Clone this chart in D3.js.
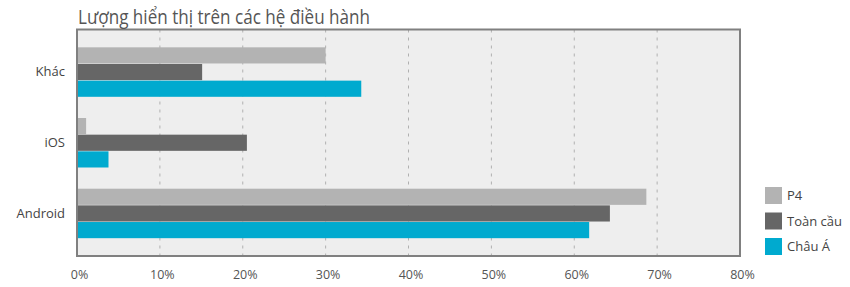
<!DOCTYPE html>
<html><head><meta charset="utf-8">
<script src="https://cdn.jsdelivr.net/npm/d3@7"></script>
<style>body{margin:0;background:#fff}svg{display:block}text{font-family:"Open Sans",sans-serif}</style>
</head><body>
<svg id="c" width="850" height="287"></svg>
<script>
const categories = ["Khác", "iOS", "Android"];
const seriesNames = ["P4", "Toàn cầu", "Châu Á"];
const p4 = [30.0, 1.1, 68.7];
const global = [15.1, 20.5, 64.3];
const asia = [34.3, 3.8, 61.8];
const ticks = [0, 10, 20, 30, 40, 50, 60, 70, 80];
const title = "Lượng hiển thị trên các hệ điều hành";
const colors = ["#b3b3b3", "#666666", "#00aacf"];
const seriesValues = [p4, global, asia];

const svg = d3.select("#c");
const L = 77, R = 740, T = 29.5, B = 256;
const x = d3.scaleLinear().domain([0, 80]).range([L, R]);
const y = d3.scaleBand().domain(categories).range([T, B]).paddingInner(0.3).paddingOuter(0.252);
const y2 = d3.scaleBand().domain(seriesNames).range([0, y.bandwidth()]).paddingInner(0.03);

svg.append("rect").attr("x", L).attr("y", T).attr("width", R - L).attr("height", B - T).attr("fill", "#eeeeee");

svg.append("g").selectAll("line").data(ticks.filter(t => t > 0 && t < 80)).join("line")
  .attr("x1", d => x(d)).attr("x2", d => x(d)).attr("y1", T).attr("y2", B)
  .attr("stroke", "#b0b0b0").attr("stroke-width", 1).attr("stroke-dasharray", "3,5");

categories.forEach((c, i) => {
  svg.append("g").selectAll("rect").data(seriesNames).join("rect")
    .attr("x", x(0)).attr("y", s => y(c) + y2(s))
    .attr("width", (s, j) => x(seriesValues[j][i]) - x(0))
    .attr("height", y2.bandwidth())
    .attr("fill", (s, j) => colors[j]);
});

svg.append("rect").attr("x", L).attr("y", T).attr("width", R - L).attr("height", B - T)
  .attr("fill", "none").attr("stroke", "#808080").attr("stroke-width", 2);

const xa = svg.append("g").attr("transform", `translate(2,${B})`)
  .call(d3.axisBottom(x).tickValues(ticks).tickFormat(d => d + "%").tickSize(0).tickPadding(14));
xa.select(".domain").remove();
xa.selectAll("text").attr("font-size", 12.5).attr("fill", "#555").style("font-family", "'Open Sans',sans-serif");

const ya = svg.append("g").attr("transform", `translate(${L},0)`)
  .call(d3.axisLeft(y).tickSize(0).tickPadding(12));
ya.select(".domain").remove();
ya.selectAll("text").attr("font-size", 13).attr("fill", "#444").style("font-family", "'Open Sans',sans-serif");

svg.append("text").attr("x", 78).attr("y", 24).attr("font-size", 20).attr("fill", "#555")
  .attr("textLength", 292).attr("lengthAdjust", "spacingAndGlyphs")
  .style("font-family", "'Open Sans', sans-serif").text(title);

const lg = svg.append("g").selectAll("g").data(seriesNames).join("g")
  .attr("transform", (d, i) => `translate(765,${187 + i * 25.5})`);
lg.append("rect").attr("width", 17).attr("height", 17).attr("fill", (d, i) => colors[i]);
lg.append("text").attr("x", 22).attr("y", 13).attr("font-size", 13).attr("fill", "#444").text(d => d);
</script>
</body></html>
